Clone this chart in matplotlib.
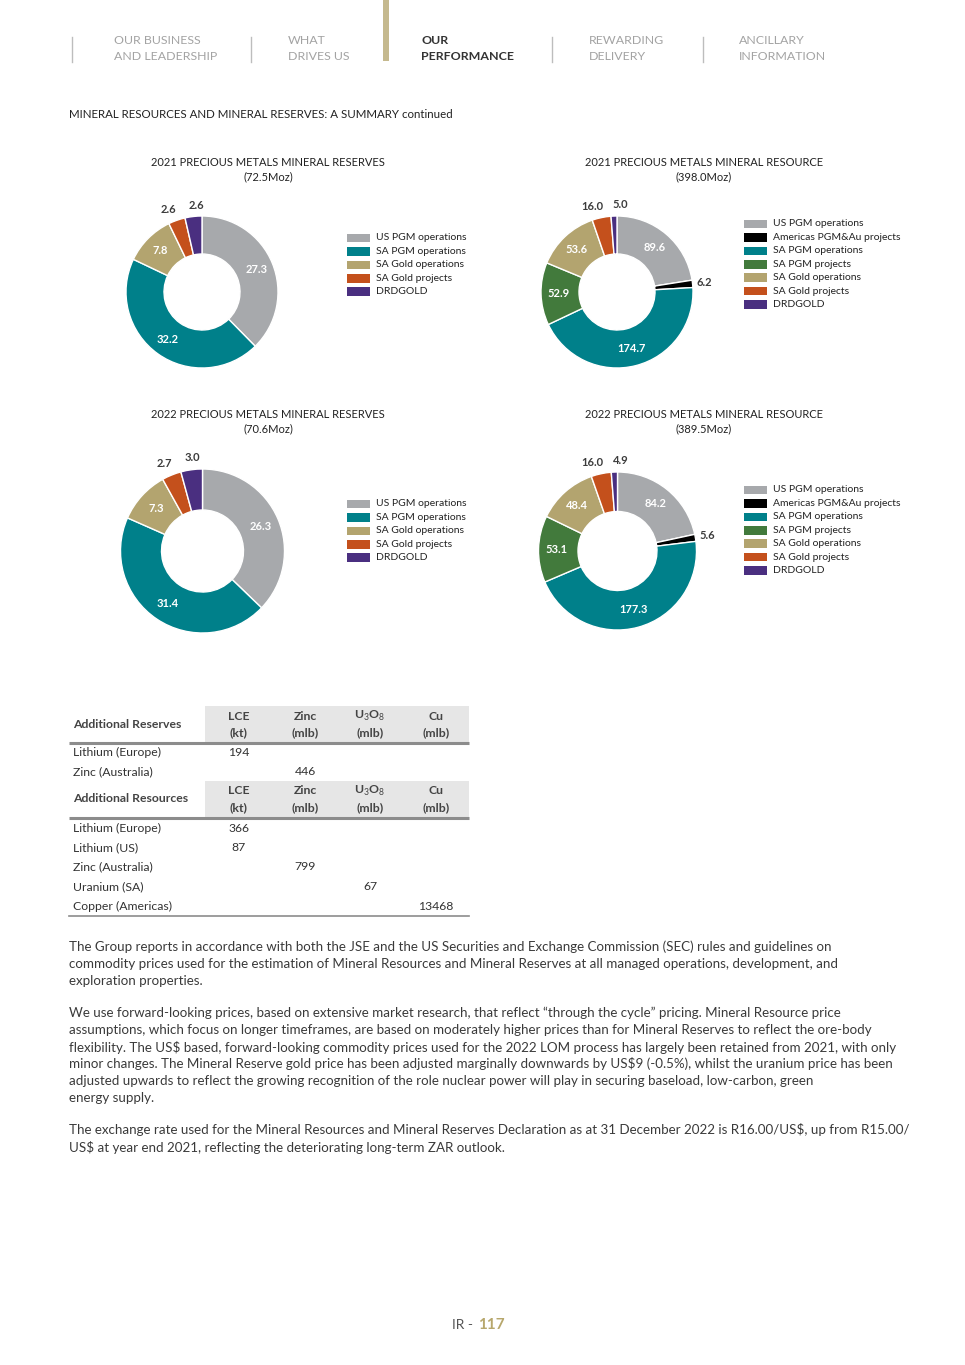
import numpy as np
import matplotlib
matplotlib.use('Agg')
import matplotlib.pyplot as plt
from matplotlib.patches import Rectangle

plt.rcParams['font.family'] = ['Lato', 'DejaVu Sans']
plt.rcParams['mathtext.fontset'] = 'custom'
plt.rcParams['mathtext.rm'] = 'Lato'

W, H = 965, 1365

# ---- data ----
res_cats = ['US PGM operations', 'SA PGM operations', 'SA Gold operations',
            'SA Gold projects', 'DRDGOLD']
res_2021 = [27.3, 32.2, 7.8, 2.6, 2.6]
res_2022 = [26.3, 31.4, 7.3, 2.7, 3.0]

rsc_cats = ['US PGM operations', 'Americas PGM&Au projects', 'SA PGM operations',
            'SA PGM projects', 'SA Gold operations', 'SA Gold projects', 'DRDGOLD']
rsc_2021 = [89.6, 6.2, 174.7, 52.9, 53.6, 16.0, 5.0]
rsc_2022 = [84.2, 5.6, 177.3, 53.1, 48.4, 16.0, 4.9]

GRAY, TEAL, TAN = '#A7A9AC', '#00808A', '#B3A46F'
ORANGE, PURPLE, BLACK, GREEN = '#C4501C', '#4A2F80', '#000000', '#427A3C'
res_colors = [GRAY, TEAL, TAN, ORANGE, PURPLE]
rsc_colors = [GRAY, BLACK, TEAL, GREEN, TAN, ORANGE, PURPLE]

tab_cols = ['LCE\n(kt)', 'Zinc\n(mlb)', 'U$_3$O$_8$\n(mlb)', 'Cu\n(mlb)']
add_res_rows = ['Lithium (Europe)', 'Zinc (Australia)']
add_res_vals = [['194', '', '', ''],
                ['', '446', '', '']]
add_rsc_rows = ['Lithium (Europe)', 'Lithium (US)', 'Zinc (Australia)',
                'Uranium (SA)', 'Copper (Americas)']
add_rsc_vals = [['366', '', '', ''],
                ['87', '', '', ''],
                ['', '799', '', ''],
                ['', '', '67', ''],
                ['', '', '', '13468']]

paragraphs = [
    ['The Group reports in accordance with both the JSE and the US Securities and Exchange Commission (SEC) rules and guidelines on',
     'commodity prices used for the estimation of Mineral Resources and Mineral Reserves at all managed operations, development, and',
     'exploration properties.'],
    ['We use forward-looking prices, based on extensive market research, that reflect \u201cthrough the cycle\u201d pricing. Mineral Resource price',
     'assumptions, which focus on longer timeframes, are based on moderately higher prices than for Mineral Reserves to reflect the ore-body',
     'flexibility. The US$ based, forward-looking commodity prices used for the 2022 LOM process has largely been retained from 2021, with only',
     'minor changes. The Mineral Reserve gold price has been adjusted marginally downwards by US$9 (-0.5%), whilst the uranium price has been',
     'adjusted upwards to reflect the growing recognition of the role nuclear power will play in securing baseload, low-carbon, green',
     'energy supply.'],
    ['The exchange rate used for the Mineral Resources and Mineral Reserves Declaration as at 31 December 2022 is R16.00/US$, up from R15.00/',
     'US$ at year end 2021, reflecting the deteriorating long-term ZAR outlook.'],
]

TXT = '#3A3A3A'
NAV = '#A3A3A3'
GOLD = '#C5B98E'

fig = plt.figure(figsize=(W / 100, H / 100), dpi=100)
page = fig.add_axes([0, 0, 1, 1])
page.set_xlim(0, W)
page.set_ylim(H, 0)
page.axis('off')

# ---- header navigation ----
for x in [72, 251, 552, 703]:
    page.plot([x, x], [37, 62], color='#BDBDBD', lw=1)
page.add_patch(Rectangle((383, 0), 6, 61, color=GOLD, lw=0))
nav = [(114, 'OUR BUSINESS\nAND LEADERSHIP', False), (288, 'WHAT\nDRIVES US', False),
       (421, 'OUR\nPERFORMANCE', True), (589, 'REWARDING\nDELIVERY', False),
       (739, 'ANCILLARY\nINFORMATION', False)]
for x, s, act in nav:
    l1, l2 = s.split('\n')
    for y, t in [(41, l1), (56, l2)]:
        page.text(x, y, t, fontsize=8.9, va='center', ha='left',
                  color='#333333' if act else NAV, fontweight='bold' if act else 'normal')

page.text(69, 115, 'MINERAL RESOURCES AND MINERAL RESERVES: A SUMMARY continued',
          fontsize=8.3, va='center', color='#222222')


def titles(tx, y, t1, t2):
    page.text(tx, y, t1, ha='center', va='center', fontsize=8.0, color='#222222')
    page.text(tx, y + 14, t2, ha='center', va='center', fontsize=8.0, color='#222222')


def legend(x, y0, labels, colors):
    for i, (lab, c) in enumerate(zip(labels, colors)):
        y = y0 + i * 13.4
        page.add_patch(Rectangle((x, y - 4.3), 23, 8.6, color=c, lw=0))
        page.text(x + 29, y, lab, va='center', ha='left', fontsize=7.5, color='#222222')


def donut(cx, cy, R, values, colors):
    ax = fig.add_axes([(cx - R) / W, 1 - (cy + R) / H, 2 * R / W, 2 * R / H])
    wedges, _ = ax.pie(values, colors=colors, startangle=90, counterclock=False,
                       radius=1, wedgeprops=dict(width=0.5, edgecolor='white', linewidth=1))
    ax.set_xlim(-1, 1)
    ax.set_ylim(-1, 1)
    ax.set_aspect('equal')
    ax.axis('off')
    s = sum(values)
    outside = []
    for w, v in zip(wedges, values):
        a = np.deg2rad((w.theta1 + w.theta2) / 2)
        if v / s > 0.05:
            ax.text(0.77 * np.cos(a), 0.77 * np.sin(a), f'{v:.1f}', ha='center',
                    va='center', fontsize=8, fontweight='bold', color='white')
        else:
            outside.append([1.15 * np.cos(a), 1.15 * np.sin(a), v])
    # spread neighbouring outer labels so they don't collide
    sep = 28 / R
    for i in range(len(outside) - 1):
        p, q = outside[i], outside[i + 1]
        if abs(p[1] - q[1]) < 0.25 and abs(p[0] - q[0]) < sep:
            push = (sep - abs(p[0] - q[0])) / 2
            lo, hi = (p, q) if p[0] < q[0] else (q, p)
            lo[0] -= push
            hi[0] += push
    for x, y, v in outside:
        ax.text(x, y, f'{v:.1f}', ha='center', va='center', fontsize=8,
                fontweight='bold', color='#3C3C3C')


donut(202, 292, 76, res_2021, res_colors)
titles(268, 163, '2021 PRECIOUS METALS MINERAL RESERVES', '(72.5Moz)')
legend(347, 238, res_cats, res_colors)

donut(617, 292, 76, rsc_2021, rsc_colors)
titles(704, 163, '2021 PRECIOUS METALS MINERAL RESOURCE', '(398.0Moz)')
legend(744, 224, rsc_cats, rsc_colors)

donut(202.5, 551, 82, res_2022, res_colors)
titles(268, 415, '2022 PRECIOUS METALS MINERAL RESERVES', '(70.6Moz)')
legend(347, 504, res_cats, res_colors)

donut(617.5, 551, 79, rsc_2022, rsc_colors)
titles(704, 415, '2022 PRECIOUS METALS MINERAL RESOURCE', '(389.5Moz)')
legend(744, 490, rsc_cats, rsc_colors)

# ---- table ----
col_x = [239, 305, 370, 436]
TL, TR = 69, 469
FS = 8.8


def tab_header(y0, label):
    page.add_patch(Rectangle((205, y0), TR - 205, 36, color='#E6E6E6', lw=0))
    page.text(73, y0 + 18, label, va='center', ha='left', fontsize=FS,
              fontweight='bold', color='#444444')
    for x, c in zip(col_x, tab_cols):
        a, b = c.split('\n')
        page.text(x, y0 + 10, a, ha='center', va='center', fontsize=FS,
                  fontweight='bold', color='#444444')
        page.text(x, y0 + 27, b, ha='center', va='center', fontsize=FS,
                  fontweight='bold', color='#444444')
    page.plot([TL, TR], [y0 + 37, y0 + 37], color='#8C8C8C', lw=2.2,
              solid_capstyle='butt')


def tab_rows(y0, rows, vals):
    for i, (rname, rv) in enumerate(zip(rows, vals)):
        y = y0 + i * 19.5
        page.text(73, y, rname, va='center', ha='left', fontsize=FS, color='#333333')
        for x, v in zip(col_x, rv):
            if v:
                page.text(x, y, v, ha='center', va='center', fontsize=FS, color='#333333')


tab_header(706, 'Additional Reserves')
tab_rows(752, add_res_rows, add_res_vals)
tab_header(781, 'Additional Resources')
tab_rows(828, add_rsc_rows, add_rsc_vals)
page.plot([TL, TR], [915.5, 915.5], color='#8C8C8C', lw=1.2)

# ---- body text ----
y = 947
for para in paragraphs:
    for line in para:
        page.text(69, y, line, va='center', ha='left', fontsize=9.6, color=TXT)
        y += 17
    y += 15

# ---- footer ----
page.text(477, 1325, 'IR - ', ha='right', va='center', fontsize=10, color='#555555')
page.text(478, 1325, '117', ha='left', va='center', fontsize=11,
          fontweight='bold', color='#B7A76C')

fig.savefig('out.png', dpi=100)
